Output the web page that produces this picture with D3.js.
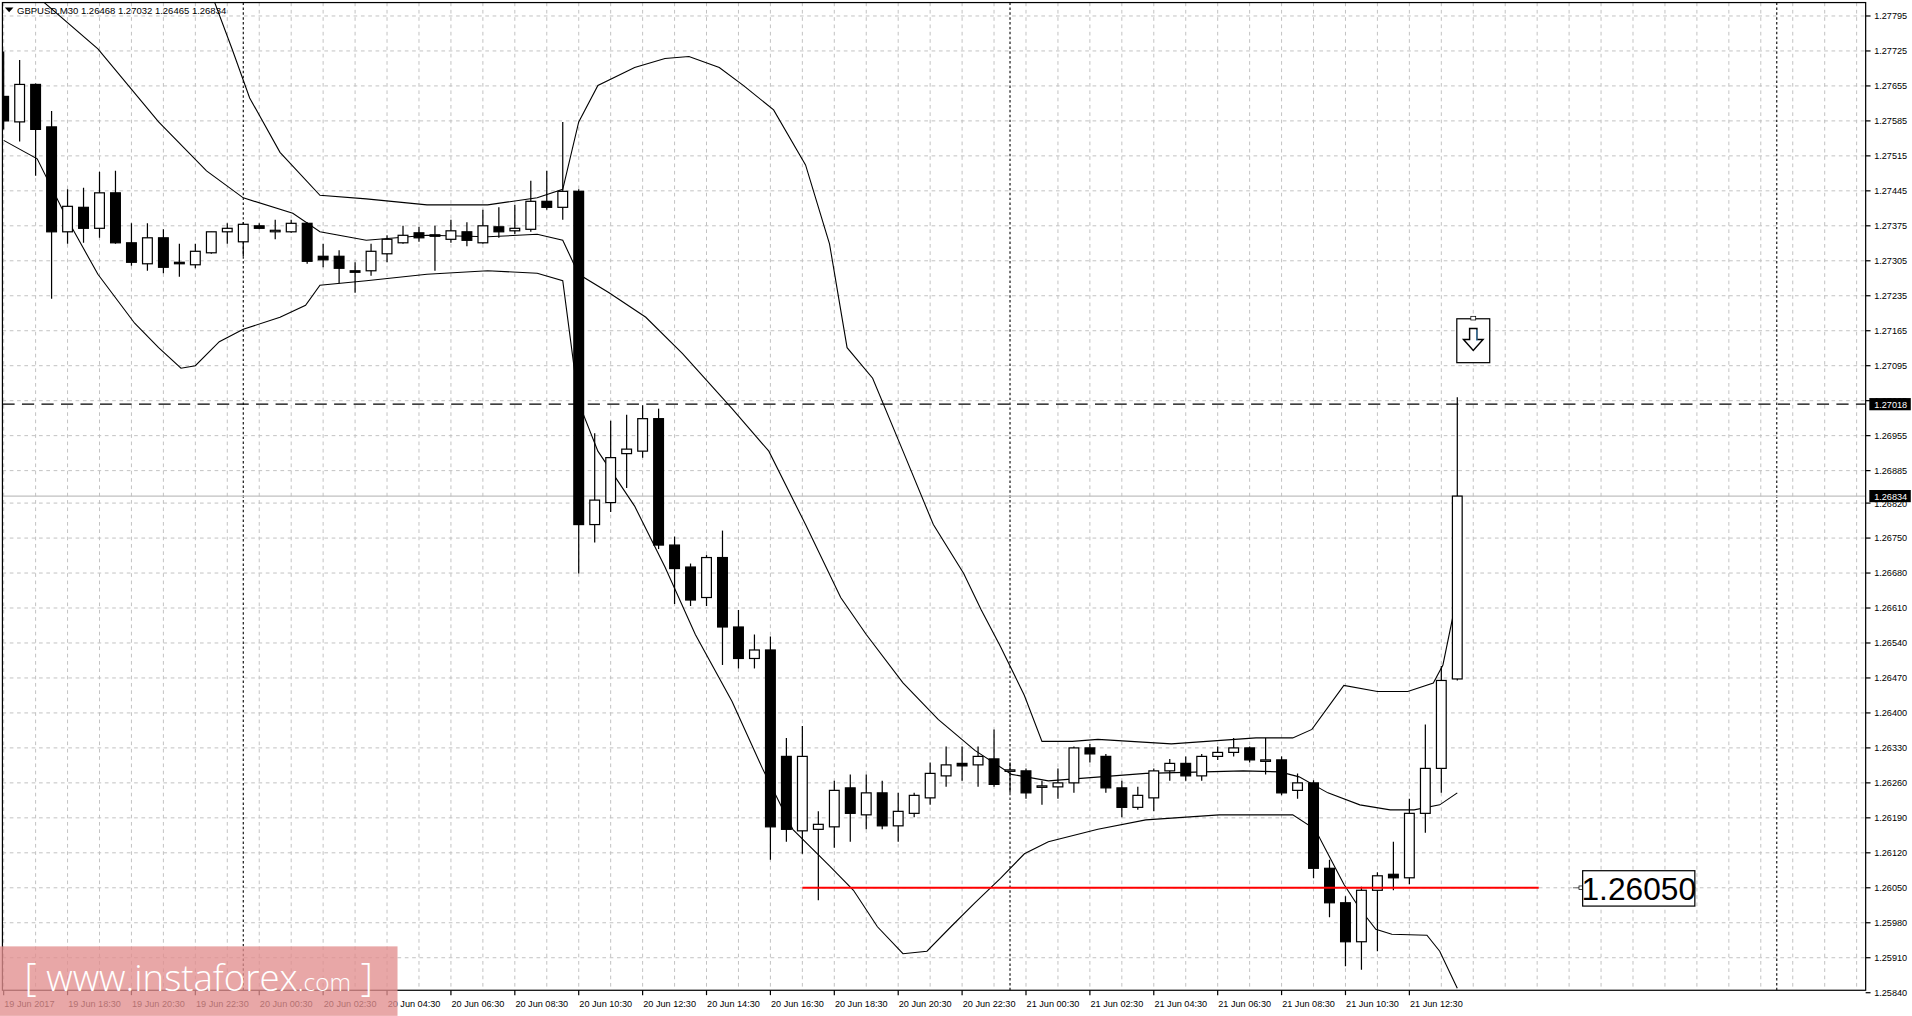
<!DOCTYPE html>
<html><head><meta charset="utf-8">
<script src="https://cdn.jsdelivr.net/npm/d3@7"></script>
<style>html,body{margin:0;padding:0;background:#fff;overflow:hidden}</style>
</head><body>
<svg id="c" width="1912" height="1016" viewBox="0 0 1568 833"></svg>
<script>
// ---- data ----
const title = "GBPUSD,M30  1.26468 1.27032 1.26465 1.26834";
const timeLabels = ["19 Jun 2017","19 Jun 18:30","19 Jun 20:30","19 Jun 22:30","20 Jun 00:30","20 Jun 02:30","20 Jun 04:30","20 Jun 06:30","20 Jun 08:30","20 Jun 10:30","20 Jun 12:30","20 Jun 14:30","20 Jun 16:30","20 Jun 18:30","20 Jun 20:30","20 Jun 22:30","21 Jun 00:30","21 Jun 02:30","21 Jun 04:30","21 Jun 06:30","21 Jun 08:30","21 Jun 10:30","21 Jun 12:30"];
const priceTicks = [1.27795,1.27725,1.27655,1.27585,1.27515,1.27445,1.27375,1.27305,1.27235,1.27165,1.27095,1.27025,1.26955,1.26885,1.26820,1.26750,1.26680,1.26610,1.26540,1.26470,1.26400,1.26330,1.26260,1.26190,1.26120,1.26050,1.25980,1.25910,1.25840];
const daySeparators = [15, 63, 111];
// OHLC in 1e-5 units
const opens  = [127634,127583,127658,127573,127363,127412,127370,127441,127341,127299,127351,127302,127297,127321,127363,127343,127375,127365,127363,127380,127314,127314,127285,127285,127319,127341,127361,127357,127348,127363,127341,127373,127365,127368,127424,127412,127444,126777,126821,126919,126924,126989,126736,126692,126631,126711,126572,126509,126526,126313,126164,126167,126172,126250,126196,126240,126174,126199,126230,126274,126299,126296,126308,126284,126284,126252,126252,126260,126330,126313,126250,126211,126230,126284,126299,126274,126313,126321,126330,126304,126306,126245,126260,126089,126020,125942,126045,126077,126070,126199,126289,126468];
const highs  = [127724,127707,127660,127605,127448,127451,127483,127485,127380,127380,127368,127339,127339,127363,127380,127382,127380,127387,127387,127382,127339,127326,127302,127339,127356,127375,127373,127375,127387,127382,127407,127412,127417,127465,127485,127583,127448,126960,126985,126997,127016,127009,126753,126699,126716,126765,126606,126557,126553,126350,126374,126203,126264,126277,126277,126264,126240,126240,126301,126333,126333,126333,126367,126301,126289,126264,126289,126333,126338,126318,126264,126252,126289,126308,126313,126318,126333,126350,126333,126350,126313,126279,126265,126106,126033,126052,126081,126142,126228,126377,126494,127032];
const lows   = [127568,127544,127475,127229,127339,127341,127351,127339,127295,127285,127280,127273,127290,127319,127339,127314,127368,127348,127361,127299,127292,127260,127241,127275,127302,127339,127343,127285,127341,127334,127339,127351,127358,127363,127407,127387,126679,126741,126802,126850,126911,126728,126618,126614,126614,126496,126489,126489,126106,126142,126118,126025,126130,126142,126167,126167,126142,126191,126216,126252,126264,126252,126252,126240,126228,126216,126228,126240,126301,126240,126191,126206,126203,126264,126264,126264,126306,126313,126301,126277,126235,126228,126069,125991,125893,125886,125923,126045,126057,126160,126240,126465];
const closes = [127585,127658,127568,127363,127414,127370,127441,127341,127302,127351,127292,127300,127324,127363,127370,127378,127370,127366,127380,127304,127307,127290,127282,127324,127348,127356,127351,127355,127365,127346,127375,127363,127370,127424,127412,127444,126777,126826,126911,126928,126989,126736,126689,126626,126711,126572,126509,126526,126172,126167,126313,126177,126245,126199,126240,126174,126203,126235,126279,126296,126294,126313,126257,126286,126240,126254,126260,126330,126318,126250,126211,126235,126284,126299,126274,126313,126321,126330,126306,126306,126240,126260,126089,126020,125942,126045,126074,126070,126199,126289,126465,126834];
// Bollinger bands: [bar index, price*1e5]
const upperBand = [[13,127840],[14.3,127729],[15.4,127631],[17.3,127522],[19.8,127436],[22.7,127429],[26.5,127417],[30.3,127417],[33.4,127431],[35,127448],[36,127583],[37.2,127656],[39.5,127692],[41.4,127710],[42.9,127714],[44.8,127692],[46.3,127656],[48.2,127607],[50.2,127497],[51.7,127339],[52.8,127131],[54.4,127070],[56.3,126924],[58.2,126777],[60.1,126679],[61.2,126606],[62.4,126533],[63.9,126435],[65,126343],[66.9,126343],[68.5,126347],[73.1,126338],[78.4,126350],[80.7,126350],[81.9,126367],[83.9,126455],[86,126443],[87.9,126443],[89.5,126460],[90.1,126496],[91,126636]];
const middleBand = [[2.1,127834],[5.9,127729],[9.7,127583],[12.7,127485],[15,127431],[18.1,127400],[19.8,127363],[22.7,127346],[26.5,127356],[30.3,127353],[33.4,127358],[35,127346],[36,127278],[37.9,127241],[40.2,127192],[42.5,127119],[45.6,127009],[47.9,126924],[50.2,126777],[52.4,126631],[54,126557],[56.3,126460],[58.5,126387],[60.8,126325],[63.1,126277],[65.4,126264],[71.5,126279],[77.6,126284],[79.9,126282],[81.1,126272],[82.9,126240],[84.9,126216],[86.8,126206],[88.3,126206],[89.9,126216],[91,126240]];
const lowerBand = [[0,127546],[2.1,127509],[4,127387],[5.9,127278],[8.2,127180],[9.7,127131],[11.1,127090],[12,127095],[13.5,127143],[15,127168],[17.3,127192],[18.9,127216],[19.8,127256],[22.7,127265],[26.5,127278],[30.3,127285],[33.4,127280],[35,127265],[36,127021],[37.2,126924],[39.5,126814],[41.4,126692],[43.3,126557],[45.6,126423],[47.5,126289],[49.4,126167],[51.7,126094],[53.2,126045],[54.7,125972],[56.3,125918],[57.8,125923],[59.3,125972],[60.8,126020],[62.4,126069],[63.9,126118],[65.4,126142],[68.5,126167],[71.5,126186],[76.1,126196],[80.7,126196],[82.1,126167],[82.9,126118],[83.9,126057],[84.9,126008],[85.9,125967],[86.9,125957],[89.1,125955],[89.9,125923],[91,125849]];
const dashedLevel = 1.27018, bidLevel = 1.26834;
const supportLevel = 1.26050, supportFrom = 50, supportTo = 96.1;
const signalBar = 92, signalPrice = 1.27145;

// ---- layout ----
const svg = d3.select("#c");
const L = 2, R = 1530, T = 2, B = 812;
const x = d3.scaleLinear().domain([0, 116]).range([3, 3 + 116 * 13.1]);
const y = d3.scaleLinear().domain([1.27795, 1.25840]).range([13, 814]);
const font = "Liberation Sans, Arial, sans-serif";
svg.append("clipPath").attr("id","pc").append("rect").attr("x",L).attr("y",T).attr("width",R-L).attr("height",B-T);
const plot = svg.append("g").attr("clip-path","url(#pc)");

// grid
const vg = d3.range(0, 118, 2);
plot.selectAll(".vg").data(vg).enter().append("line")
  .attr("x1", d => x(d)).attr("x2", d => x(d)).attr("y1", T).attr("y2", B)
  .attr("stroke", "#c0c0c0").attr("stroke-width", 0.8).attr("stroke-dasharray", "3,3");
plot.selectAll(".hg").data(priceTicks).enter().append("line")
  .attr("x1", L).attr("x2", R).attr("y1", d => y(d)).attr("y2", d => y(d))
  .attr("stroke", "#c0c0c0").attr("stroke-width", 0.8).attr("stroke-dasharray", "3,3");
plot.selectAll(".ds").data(daySeparators).enter().append("line")
  .attr("x1", d => x(d)).attr("x2", d => x(d)).attr("y1", T).attr("y2", B)
  .attr("stroke", "#000").attr("stroke-width", 0.9).attr("stroke-dasharray", "2,2");

// levels
plot.append("line").attr("x1", L).attr("x2", R).attr("y1", y(dashedLevel)).attr("y2", y(dashedLevel))
  .attr("stroke", "#000").attr("stroke-width", 0.9).attr("stroke-dasharray", "10,6");
plot.append("line").attr("x1", L).attr("x2", R).attr("y1", y(bidLevel)).attr("y2", y(bidLevel))
  .attr("stroke", "#c0c0c0").attr("stroke-width", 1);

// bands
const line = d3.line().x(d => x(d[0])).y(d => y(d[1] / 1e5));
[upperBand, middleBand, lowerBand].forEach(b =>
  plot.append("path").attr("d", line(b)).attr("fill", "none").attr("stroke", "#000").attr("stroke-width", 0.9));

// candles
const bars = opens.map((o, i) => ({i, o: o/1e5, h: highs[i]/1e5, l: lows[i]/1e5, c: closes[i]/1e5}));
const g = plot.selectAll(".cd").data(bars).enter().append("g");
g.append("line").attr("x1", d => x(d.i)).attr("x2", d => x(d.i))
  .attr("y1", d => y(d.h)).attr("y2", d => y(d.l)).attr("stroke", "#000").attr("stroke-width", 1);
g.append("rect").attr("x", d => x(d.i) - 4).attr("width", 8)
  .attr("y", d => y(Math.max(d.o, d.c)))
  .attr("height", d => Math.max(1.2, Math.abs(y(d.o) - y(d.c))))
  .attr("fill", d => d.c >= d.o ? "#fff" : "#000").attr("stroke", "#000").attr("stroke-width", 1);

// support
plot.append("line").attr("x1", x(supportFrom)).attr("x2", x(supportTo))
  .attr("y1", y(supportLevel)).attr("y2", y(supportLevel)).attr("stroke", "#ff0000").attr("stroke-width", 1.5);
const lx = x(supportTo) + 35, ly = y(supportLevel);
plot.append("line").attr("x1", lx - 7).attr("x2", lx).attr("y1", ly).attr("y2", ly).attr("stroke", "#666").attr("stroke-width", 0.8);
plot.append("rect").attr("x", lx - 2).attr("y", ly - 1.5).attr("width", 3).attr("height", 3).attr("fill", "#fff").attr("stroke", "#000").attr("stroke-width", 0.6);
plot.append("rect").attr("x", lx + 1).attr("y", ly - 14).attr("width", 92).attr("height", 29)
  .attr("fill", "#fff").attr("stroke", "#000").attr("stroke-width", 1);
plot.append("text").attr("x", lx + 47).attr("y", ly + 10).attr("text-anchor", "middle")
  .attr("font-family", font).attr("font-size", 26).text(supportLevel.toFixed(5));

// sell signal icon
const sx = x(signalBar), sy = y(signalPrice);
plot.append("rect").attr("x", sx - 13.5).attr("y", sy - 18).attr("width", 27).attr("height", 36)
  .attr("fill", "#fff").attr("stroke", "#000").attr("stroke-width", 1);
plot.append("rect").attr("x", sx - 2).attr("y", sy - 20).attr("width", 4).attr("height", 3)
  .attr("fill", "#fff").attr("stroke", "#000").attr("stroke-width", 0.6);
plot.append("path").attr("d", `M${sx-3},${sy-10} h6 v9 h5 l-8,9 l-8,-9 h5 z`)
  .attr("fill", "#fff").attr("stroke", "#000").attr("stroke-width", 1.2);
plot.append("path").attr("d", `M${sx+3},${sy-9} v9`).attr("stroke", "#4aa0e0").attr("stroke-width", 0.8);

// frame
svg.append("rect").attr("x", L).attr("y", T).attr("width", R - L).attr("height", B - T)
  .attr("fill", "none").attr("stroke", "#000").attr("stroke-width", 1);

// price axis
const pa = svg.append("g");
pa.selectAll("line").data(priceTicks).enter().append("line")
  .attr("x1", R).attr("x2", R + 4).attr("y1", d => y(d)).attr("y2", d => y(d)).attr("stroke", "#000");
pa.selectAll("text").data(priceTicks).enter().append("text")
  .attr("x", R + 7).attr("y", d => y(d) + 2.8).attr("font-family", font).attr("font-size", 7.5).attr("fill", "#000")
  .text(d => d.toFixed(5));
[dashedLevel, bidLevel].forEach(v => {
  pa.append("rect").attr("x", R + 3).attr("y", y(v) - 5).attr("width", 34).attr("height", 10).attr("fill", "#000");
  pa.append("text").attr("x", R + 7).attr("y", y(v) + 3).attr("font-family", font).attr("font-size", 7.5)
    .attr("fill", "#fff").text(v.toFixed(5));
});

// time axis
const ta = svg.append("g");
ta.selectAll("line").data(timeLabels).enter().append("line")
  .attr("x1", (d, i) => x(i * 4)).attr("x2", (d, i) => x(i * 4)).attr("y1", B).attr("y2", B + 4).attr("stroke", "#000");
ta.selectAll("text").data(timeLabels).enter().append("text")
  .attr("x", (d, i) => x(i * 4) + 0.5).attr("y", B + 14).attr("font-family", font).attr("font-size", 7.5).text(d => d);

// title
svg.append("path").attr("d", "M4,6 h7 l-3.5,4 z").attr("fill", "#000");
svg.append("text").attr("x", 14).attr("y", 11).attr("font-family", font).attr("font-size", 7.8).text(title);

// watermark
svg.append("rect").attr("x", 0).attr("y", 776).attr("width", 326).attr("height", 57)
  .attr("fill", "#e28e8e").attr("opacity", 0.78);
const wm = svg.append("text").attr("x", 20).attr("y", 813).attr("font-family", "Open Sans, Liberation Sans, sans-serif")
  .attr("fill", "#fff").attr("font-weight", 300);
wm.append("tspan").attr("font-size", 31).text("[ ");
wm.append("tspan").attr("font-size", 30).text(" www.instaforex");
wm.append("tspan").attr("font-size", 20).text(".com");
wm.append("tspan").attr("font-size", 31).text(" ]");
</script>
</body></html>
